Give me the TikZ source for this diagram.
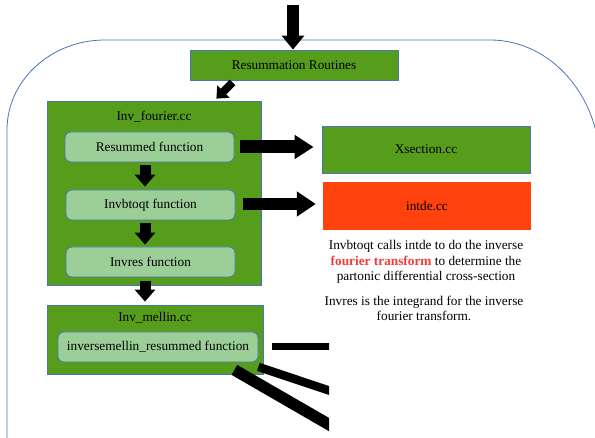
\documentclass[tikz,border=0pt]{standalone}
\usepackage{fontspec}
\setmainfont{Liberation Serif}
\usetikzlibrary{arrows.meta,calc}
\definecolor{boxgreen}{HTML}{579D1C}
\definecolor{lightgreen}{HTML}{9CCF98}
\definecolor{boxorange}{HTML}{FF420E}
\definecolor{bordblue}{HTML}{4A76B8}
\definecolor{fred}{HTML}{F23A3A}
\tikzset{
  lbl/.style={font=\fontsize{13.3}{15.5}\selectfont, inner sep=0pt},
  greenbox/.style={draw=bordblue, line width=0.8pt, fill=boxgreen, inner sep=0pt},
  funcbox/.style={draw=bordblue, line width=0.8pt, fill=lightgreen, rounded corners=6pt, inner sep=0pt,
    font=\fontsize{13.3}{15.5}\selectfont},
  orangebox/.style={fill=boxorange, inner sep=0pt, font=\fontsize{13.3}{15.5}\selectfont},
  blockarrow/.style={draw=black, line width=#1},
  bar/.style={draw=black, line width=#1, line cap=butt},
}
\begin{document}
\begin{tikzpicture}[x=1pt,y=-1pt]
\useasboundingbox (0,0) rectangle (595,438);
% outer rounded frame
\draw[bordblue, line width=0.8pt] (7,460) -- (7,130)
  .. controls (7,80.3) and (50.9,40) .. (105,40) -- (490,40)
  .. controls (550.8,40) and (600,96) .. (600,165) -- (600,460);

% nodes
\node[greenbox, minimum width=208pt, minimum height=30pt, font=\fontsize{13.3}{15.5}\selectfont] (resum) at (294,65) {Resummation Routines};
\node[greenbox, minimum width=214pt, minimum height=184pt] (invf) at (154,193) {};
\node[lbl] (invflabel) at (154,117) {Inv\_fourier.cc};
\node[funcbox, minimum width=169pt, minimum height=30pt] (resf) at (149.5,147) {Resummed function};
\node[funcbox, minimum width=169pt, minimum height=30pt] (invb) at (150.5,205) {Invbtoqt function};
\node[funcbox, minimum width=169pt, minimum height=30pt] (invr) at (150.5,262) {Invres function};
\node[greenbox, minimum width=208pt, minimum height=47pt, font=\fontsize{13.3}{15.5}\selectfont] (xsec) at (426,149.5) {Xsection.cc};
\node[orangebox, minimum width=208pt, minimum height=48pt] (intde) at (427,206) {intde.cc};
\node[lbl, align=center] (note1) at (426,262) {Invbtoqt calls intde to do the inverse\\
  {\color{fred}\bfseries fourier transform} to determine the\\
  partonic differential cross-section};
\node[lbl, align=center] (note2) at (424,308.5) {Invres is the integrand for the inverse\\ fourier transform.};
\node[greenbox, minimum width=216pt, minimum height=69pt] (invm) at (155,339.5) {};
\node[lbl] (invmlabel) at (155,318) {Inv\_mellin.cc};
\node[funcbox, minimum width=200pt, minimum height=30pt] (invmf) at (158,347) {inversemellin\_resummed function};

% arrows
\coordinate (topin) at (293,5);
\draw[blockarrow=12pt, -{Triangle[length=14pt,width=22pt]}] (topin) -- (topin |- resum.north);
\draw[blockarrow=8pt, -{Triangle[length=10pt,width=17pt]}]
  ($(resum.south west)+(43,2)$) -- ($(invf.north east)+(-45,-2)$);
\draw[blockarrow=13pt, -{Triangle[length=19pt,width=23pt]}]
  ($(resf.east)+(6,0)$) -- ($(resf.east -| xsec.west)+(-8,0)$);
\draw[blockarrow=12pt, -{Triangle[length=19pt,width=24pt]}]
  ($(invb.east)+(8,-1)$) -- ($(invb.east -| intde.west)+(-7,-1)$);
\draw[blockarrow=11pt, -{Triangle[length=12pt,width=20pt]}]
  ($(resf.south)+(-4.5,3)$) -- ($(invb.north)+(-5.5,-3)$);
\draw[blockarrow=11pt, -{Triangle[length=12pt,width=20pt]}]
  ($(invb.south)+(-5.5,3)$) -- ($(invr.north)+(-5.5,-2)$);
\draw[blockarrow=11pt, -{Triangle[length=12pt,width=20pt]}]
  ($(invr.south)+(-5.5,4)$) -- ($(invm.north)+(-10,-3)$);

% truncated connectors
\coordinate (e0) at (340,346.5);
\coordinate (e1) at (340,394.2);
\coordinate (e2) at (340,430.9);
\begin{scope}
\clip (0,0) rectangle (329,438);
\draw[bar=7pt] ($(invm.east)+(9,7)$) -- (e0);
\draw[bar=8.5pt] ($(invmf.south east)+(0,4.5)$) -- (e1);
\draw[bar=11.5pt] ($(invm.south east)+(-29,-4.5)$) -- (e2);
\end{scope}
\end{tikzpicture}
\end{document}
